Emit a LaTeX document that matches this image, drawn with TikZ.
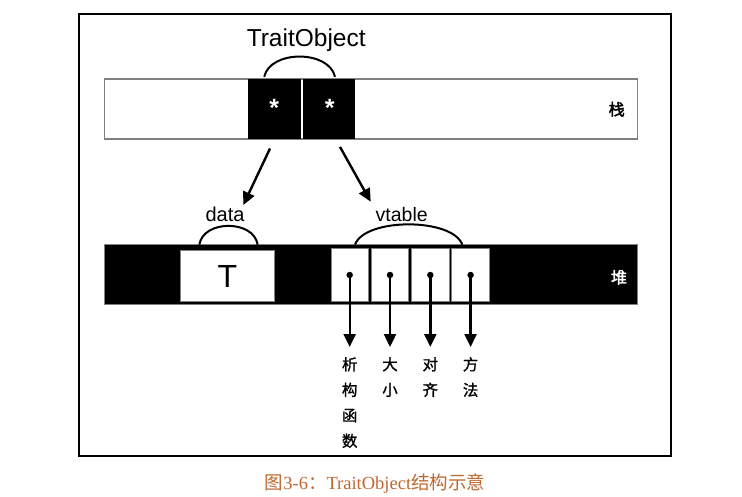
\documentclass[tikz,border=0pt]{standalone}
\usepackage{fontspec}
\setmainfont{Liberation Sans}
\newfontfamily\cjk{Noto Sans CJK SC}
\newfontfamily\cjkmed[FakeBold=1.2]{Noto Sans CJK SC}
\newfontfamily\cjkbold[FakeBold=2.5]{Noto Sans CJK SC}
\newfontfamily\capserif{Liberation Serif}
\usetikzlibrary{arrows.meta,calc}
\definecolor{capcol}{RGB}{190,105,50}
\definecolor{edgegray}{RGB}{128,128,128}
\begin{document}
\begin{tikzpicture}[x=1pt,y=-1pt,
  arr/.style={line width=2.4pt,-{Triangle[length=13pt,width=12pt]}},
  cellblk/.style={fill=black,draw=none,minimum width=52.7pt,minimum height=60pt,inner sep=0},
  vcell/.style={fill=white,draw=edgegray,line width=0.8pt,minimum width=37.5pt,minimum height=53pt,inner sep=0},
  dotnode/.style={circle,fill=black,minimum size=6.5pt,inner sep=0},
  lab/.style={font=\cjkmed\fontsize{15.5}{25.5}\selectfont,align=center,anchor=north,inner sep=0},
  bracearc/.style={line width=2pt},
  sanslabel/.style={anchor=base,inner sep=0}
]
\useasboundingbox (0,0) rectangle (742,496);
% frame
\node[draw=black,line width=2.2pt,minimum width=591.7pt,minimum height=442pt,inner sep=0] (frame) at (374.85,235) {};
% stack
\node[draw=edgegray,line width=1.5pt,minimum width=533.4pt,minimum height=60pt,inner sep=0] (stack) at (371,109) {};
\node[cellblk] (c1) at (274.2,109) {};
\node[cellblk] (c2) at (329,109) {};
\node[font=\bfseries\fontsize{25}{25}\selectfont,text=white,sanslabel] (s1) at (274.2,116.5) {*};
\node[font=\bfseries\fontsize{25}{25}\selectfont,text=white,sanslabel] (s2) at (329.8,116.5) {*};
\node[font=\cjkbold\fontsize{16}{16}\selectfont,inner sep=0] (zhan) at (616.7,109.3) {栈};
\node[font=\fontsize{24.5}{24.5}\selectfont,sanslabel] (to) at (306.2,46.7) {TraitObject};
\draw[bracearc] ($(c1.north)+(-10,-2)$) .. controls +(6,-27) and +(-6,-27) .. ($(c2.north)+(6,-2)$);
% heap
\node[fill=black,draw=edgegray,line width=1pt,minimum width=533.4pt,minimum height=59.7pt,inner sep=0] (heap) at (371,274.15) {};
\node[fill=white,draw=edgegray,line width=0.8pt,minimum width=93.3pt,minimum height=51pt,inner sep=0,font=\fontsize{32}{32}\selectfont] (tbox) at (227.35,276.2) {T};
\node[vcell] (v1) at (349.7,275) {};
\node[vcell] (v2) at (390,275) {};
\node[vcell] (v3) at (430.3,275) {};
\node[vcell] (v4) at (470.6,275) {};
\node[dotnode] (d1) at (v1.center) {};
\node[dotnode] (d2) at (v2.center) {};
\node[dotnode] (d3) at (v3.center) {};
\node[dotnode] (d4) at (v4.center) {};
\node[font=\cjkbold\fontsize{16}{16}\selectfont,text=white,inner sep=0] (dui) at (619,277.3) {堆};
% labels above heap
\node[font=\fontsize{20}{20}\selectfont,sanslabel] (data) at (225,221) {data};
\node[font=\fontsize{19.5}{19.5}\selectfont,sanslabel] (vt) at (401.7,221) {vtable};
\draw[bracearc] ($(tbox.north)+(-28,-5.7)$) .. controls +(4,-25) and +(-4,-25) .. ($(tbox.north)+(30.3,-5.7)$);
\draw[bracearc] ($(v1.north)+(5.3,-3.5)$) .. controls +(10,-27) and +(-10,-27) .. ($(v4.north)+(-8.3,-3.5)$);
% arrows from stack
\coordinate (tipd) at (243.3,205);
\coordinate (tipv) at (370.7,201.7);
\draw[arr] ($(c1.south)+(-4.2,9.3)$) -- (tipd);
\draw[arr] ($(c2.south)+(11,7.7)$) -- (tipv);
% vtable entries
\node[lab] (l1) at (349.7,357) {析\\构\\函\\数};
\node[lab] (l2) at (390,357) {大\\小};
\node[lab] (l3) at (430.3,357) {对\\齐};
\node[lab] (l4) at (470.6,357) {方\\法};
\draw[arr] (d1.center) -- ($(l1.north)+(0,-10)$);
\draw[arr] (d2.center) -- ($(l2.north)+(0,-10)$);
\draw[arr] (d3.center) -- ($(l3.north)+(0,-10)$);
\draw[arr] (d4.center) -- ($(l4.north)+(0,-10)$);
% caption
\node[text=capcol,font=\fontsize{18.5}{18.5}\selectfont,inner sep=0] (cap) at (375,483.3) {{\cjk 图}{\capserif 3-6}{\cjk ：}{\capserif TraitObject}{\cjk 结构示意}};
\end{tikzpicture}
\end{document}
